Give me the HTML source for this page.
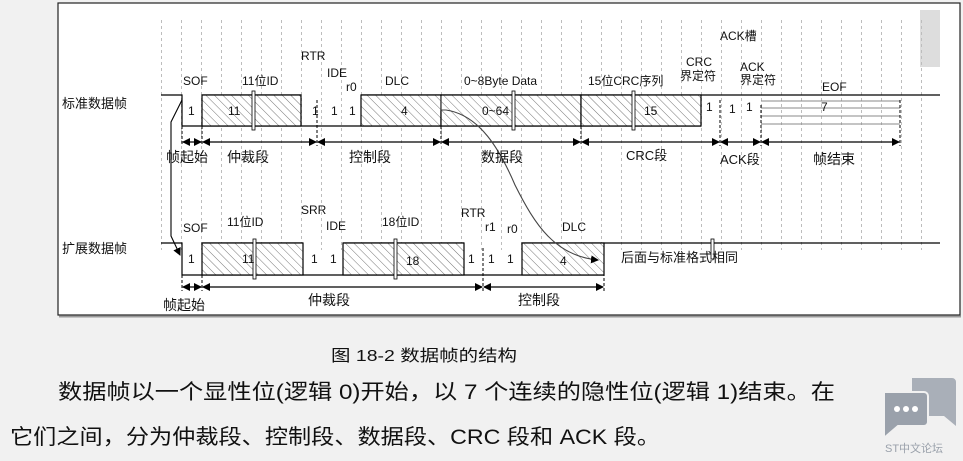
<!DOCTYPE html>
<html><head><meta charset="utf-8"><style>
html,body{margin:0;padding:0;background:#f1f1f1;width:963px;height:461px;overflow:hidden}
svg{position:absolute;left:0;top:0}
text{font-family:"Liberation Sans","Noto Sans CJK SC",sans-serif;fill:#111}
</style></head><body>
<svg width="963" height="461" viewBox="0 0 963 461">
<defs>
<pattern id="h" width="6" height="6" patternUnits="userSpaceOnUse" patternTransform="rotate(-45)">
<rect width="6" height="6" fill="#fff"/><line x1="0" y1="0" x2="0" y2="6" stroke="#777" stroke-width="1"/></pattern>
<marker id="a" markerWidth="8" markerHeight="8" refX="7" refY="4" orient="auto" markerUnits="userSpaceOnUse"><path d="M0,0 L8,4 L0,8z" fill="#000"/></marker>
<marker id="b" markerWidth="8" markerHeight="8" refX="1" refY="4" orient="auto" markerUnits="userSpaceOnUse"><path d="M8,0 L0,4 L8,8z" fill="#000"/></marker>
</defs>
<rect x="58" y="3" width="902" height="312" fill="#fff" stroke="#222" stroke-width="1.2"/>
<line x1="59" y1="316.5" x2="961" y2="316.5" stroke="#999" stroke-width="2"/>
<rect x="920" y="10" width="20" height="57" fill="#ddd"/>
<g stroke="#bdbdbd" stroke-width="1" stroke-dasharray="3,3" id="grid"></g>
<!-- top row -->
<g stroke="#000" stroke-width="1.2" fill="none">
<path d="M161,95 H182 V126 H701"/>
<line x1="202" y1="95" x2="301" y2="95"/>
<line x1="361" y1="95" x2="940" y2="95"/>
</g>
<rect x="202" y="95" width="99" height="31" fill="url(#h)" stroke="#000" stroke-width="1.2"/>
<rect x="361" y="95" width="80" height="31" fill="url(#h)" stroke="#000" stroke-width="1.2"/>
<rect x="441" y="95" width="140" height="31" fill="url(#h)" stroke="#000" stroke-width="1.2"/>
<rect x="581" y="95" width="120" height="31" fill="url(#h)" stroke="#000" stroke-width="1.2"/>
<g fill="#fff" stroke="#000" stroke-width="0.8">
<rect x="252" y="91" width="3" height="39"/><rect x="512" y="91" width="3" height="39"/><rect x="632" y="91" width="3" height="39"/>
</g>
<g stroke="#888" stroke-width="1"><line x1="761" y1="101" x2="900" y2="101"/><line x1="761" y1="108" x2="900" y2="108"/><line x1="761" y1="116" x2="900" y2="116"/><line x1="761" y1="124" x2="900" y2="124"/></g>
<g stroke="#000" stroke-width="1" stroke-dasharray="3,2">
<line x1="182" y1="126" x2="182" y2="146"/><line x1="202" y1="126" x2="202" y2="146"/><line x1="317" y1="100" x2="317" y2="146"/><line x1="441" y1="126" x2="441" y2="146"/><line x1="581" y1="126" x2="581" y2="146"/><line x1="720" y1="100" x2="720" y2="146"/><line x1="761" y1="105" x2="761" y2="146"/><line x1="900" y1="100" x2="900" y2="146"/>
</g>
<g stroke="#000" stroke-width="1.2" marker-start="url(#b)" marker-end="url(#a)">
<line x1="183" y1="142" x2="201" y2="142"/><line x1="203" y1="142" x2="316" y2="142"/><line x1="318" y1="142" x2="440" y2="142"/><line x1="442" y1="142" x2="580" y2="142"/><line x1="582" y1="142" x2="719" y2="142"/><line x1="721" y1="142" x2="760" y2="142"/><line x1="762" y1="142" x2="899" y2="142"/>
</g>
<!-- bottom row -->
<g stroke="#000" stroke-width="1.2" fill="none">
<path d="M161,243 H182 V275 H604"/>
<line x1="202" y1="243" x2="303" y2="243"/>
<line x1="343" y1="243" x2="464" y2="243"/>
<line x1="522" y1="243" x2="940" y2="243"/>
</g>
<rect x="202" y="243" width="101" height="32" fill="url(#h)" stroke="#000" stroke-width="1.2"/>
<rect x="343" y="243" width="121" height="32" fill="url(#h)" stroke="#000" stroke-width="1.2"/>
<rect x="522" y="243" width="82" height="32" fill="url(#h)" stroke="#000" stroke-width="1.2"/>
<g fill="#fff" stroke="#000" stroke-width="0.8">
<rect x="253" y="239" width="3" height="40"/><rect x="394" y="239" width="3" height="40"/><rect x="711" y="239" width="3" height="20"/>
</g>
<g stroke="#000" stroke-width="1" stroke-dasharray="3,2">
<line x1="182" y1="275" x2="182" y2="291"/><line x1="202" y1="275" x2="202" y2="291"/><line x1="483" y1="248" x2="483" y2="291"/><line x1="604" y1="243" x2="604" y2="291"/>
</g>
<g stroke="#000" stroke-width="1.2" marker-start="url(#b)" marker-end="url(#a)">
<line x1="183" y1="287" x2="201" y2="287"/><line x1="203" y1="287" x2="482" y2="287"/><line x1="484" y1="287" x2="603" y2="287"/>
</g>
<!-- connectors -->
<path d="M182,100 L171,122 V236 L180,255" fill="none" stroke="#000" stroke-width="1.1" marker-end="url(#a)"/>
<path d="M441,96 V110 H446 C480,115 500,150 515,185 C535,225 555,256 598,260" fill="none" stroke="#444" stroke-width="1.1" marker-end="url(#a)"/>
<!-- text top -->
<g font-size="12">
<text x="62" y="108" font-size="13">标准数据帧</text>
<text x="183" y="85">SOF</text><text x="242" y="85">11位ID</text>
<text x="301" y="60">RTR</text><text x="327" y="77">IDE</text><text x="346" y="91">r0</text>
<text x="385" y="85">DLC</text><text x="464" y="85">0~8Byte Data</text>
<text x="588" y="85">15位CRC序列</text>
<text x="686" y="66">CRC</text><text x="680" y="80">界定符</text>
<text x="720" y="40">ACK槽</text>
<text x="740" y="71">ACK</text><text x="740" y="84">界定符</text>
<text x="822" y="91">EOF</text>
<text x="188" y="115">1</text><text x="228" y="115">11</text><text x="312" y="115">1</text><text x="331" y="115">1</text><text x="349" y="115">1</text>
<text x="401" y="115">4</text><text x="482" y="115">0~64</text><text x="644" y="115">15</text>
<text x="706" y="111">1</text><text x="729" y="113">1</text><text x="746" y="111">1</text><text x="821" y="111">7</text>
<text x="166" y="162" font-size="14">帧起始</text><text x="227" y="162" font-size="14">仲裁段</text><text x="349" y="162" font-size="14">控制段</text>
<text x="481" y="162" font-size="14">数据段</text><text x="626" y="160" font-size="13">CRC段</text><text x="720" y="164" font-size="13">ACK段</text><text x="813" y="164" font-size="14">帧结束</text>
<!-- bottom -->
<text x="62" y="253" font-size="13">扩展数据帧</text>
<text x="183" y="232">SOF</text><text x="227" y="226">11位ID</text><text x="301" y="214">SRR</text><text x="326" y="230">IDE</text>
<text x="382" y="226">18位ID</text><text x="461" y="217">RTR</text><text x="485" y="231">r1</text><text x="507" y="233">r0</text><text x="562" y="231">DLC</text>
<text x="188" y="263">1</text><text x="242" y="263">11</text><text x="311" y="263">1</text><text x="330" y="263">1</text><text x="406" y="265">18</text>
<text x="468" y="263">1</text><text x="488" y="263">1</text><text x="507" y="263">1</text><text x="560" y="265">4</text>
<text x="621" y="262" font-size="13">后面与标准格式相同</text>
<text x="163" y="310" font-size="14">帧起始</text><text x="308" y="305" font-size="14">仲裁段</text><text x="518" y="305" font-size="14">控制段</text>
</g>
<!-- caption & paragraph -->
<text x="331" y="361" font-size="16" textLength="186" lengthAdjust="spacingAndGlyphs">图 18-2 数据帧的结构</text>
<text x="58" y="399" font-size="21" textLength="777" lengthAdjust="spacingAndGlyphs">数据帧以一个显性位(逻辑 0)开始，以 7 个连续的隐性位(逻辑 1)结束。在</text>
<text x="10" y="444" font-size="21" textLength="650" lengthAdjust="spacingAndGlyphs">它们之间，分为仲裁段、控制段、数据段、CRC 段和 ACK 段。</text>
<!-- watermark -->
<path d="M912,378 h40 a4,4 0 0 1 4,4 v44 l-12,-10 h-32 z" fill="#a9afb8"/>
<path d="M884,392 h40 a4,4 0 0 1 4,4 v26 a4,4 0 0 1 -4,4 h-26 l-14,12 z" fill="#9aa1ab" stroke="#f1f1f1" stroke-width="2"/>
<circle cx="897" cy="409" r="3" fill="#fff"/><circle cx="906" cy="409" r="3" fill="#fff"/><circle cx="915" cy="409" r="3" fill="#fff"/>
<text x="885" y="452" font-size="11" style="fill:#9aa1ab">ST中文论坛</text>
</svg>
<script>
var g=document.getElementById('grid'),s='';
for(var x=161.5;x<925;x+=20){s+='<line x1="'+x+'" y1="20" x2="'+x+'" y2="250"/>';}
g.innerHTML=s;
</script>
</body></html>
